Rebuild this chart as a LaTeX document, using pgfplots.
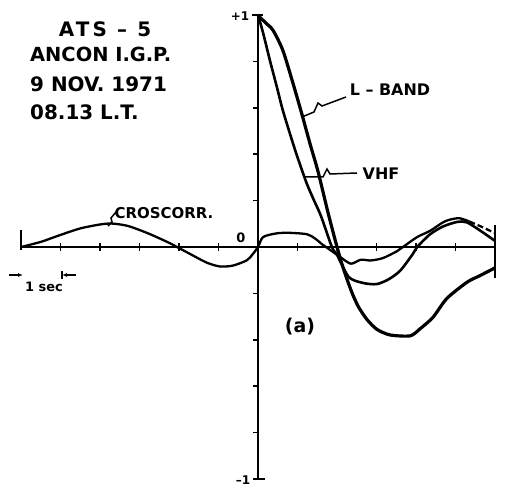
\documentclass[border=0pt]{standalone}
\usepackage{fontspec}
\setmainfont{DejaVu Sans}
\usepackage{pgfplots}
\pgfplotsset{compat=1.18}
\usetikzlibrary{arrows.meta}

\begin{document}
\begin{tikzpicture}[x=1bp,y=1bp]
\useasboundingbox (0,0) rectangle (509,498);
\begin{axis}[
  at={(258bp,251bp)}, anchor=origin,
  x=39.5bp, y=232bp,
  xmin=-6, xmax=6, ymin=-1, ymax=1,
  enlargelimits=false, clip=false,
  axis lines=middle,
  axis line style={line width=2.2bp, -},
  every inner x axis line/.append style={-},
  every inner y axis line/.append style={-},
  xtick={-5,-4,-3,-2,-1,1,2,3,4,5}, xticklabels={},
  ytick=\empty,
  major tick length=8bp, tick align=center,
  xtick style={line width=1.6bp, black},
]
% tick marks on the correlation axis (left side only) and end bars
\draw[line width=1.6bp] (axis cs:0,0.8) -- (axis cs:-0.13,0.8);
\draw[line width=1.6bp] (axis cs:0,0.6) -- (axis cs:-0.13,0.6);
\draw[line width=1.6bp] (axis cs:0,0.4) -- (axis cs:-0.13,0.4);
\draw[line width=1.6bp] (axis cs:0,0.2) -- (axis cs:-0.13,0.2);
\draw[line width=1.6bp] (axis cs:0,-0.2) -- (axis cs:-0.13,-0.2);
\draw[line width=1.6bp] (axis cs:0,-0.4) -- (axis cs:-0.13,-0.4);
\draw[line width=1.6bp] (axis cs:0,-0.6) -- (axis cs:-0.13,-0.6);
\draw[line width=1.6bp] (axis cs:0,-0.8) -- (axis cs:-0.13,-0.8);
\draw[line width=2bp] (axis cs:-0.14,1) -- (axis cs:0.12,1);
\draw[line width=2bp] (axis cs:-0.13,-1) -- (axis cs:0.18,-1);
\draw[line width=2bp] (axis cs:-6,-0.013) -- (axis cs:-6,0.073);
\draw[line width=2bp] (axis cs:6,-0.134) -- (axis cs:6,0.095);

% L-band autocorrelation
\addplot[black, line width=3.2bp, smooth, tension=0.45] coordinates {
  (0,1) (0.05,0.99) (0.2,0.965) (0.38,0.934) (0.63,0.847) (0.89,0.703)
  (1.11,0.573) (1.32,0.443) (1.52,0.325) (1.77,0.15) (2.0,0) (2.15,-0.087)
  (2.28,-0.152) (2.41,-0.21) (2.55,-0.26) (2.76,-0.313) (3.01,-0.355)
  (3.34,-0.379) (3.85,-0.383) (4.1,-0.353) (4.43,-0.303) (4.78,-0.222)
  (5.29,-0.152) (5.6,-0.125) (6,-0.09)
};
% VHF autocorrelation
\addplot[black, line width=2.6bp, smooth, tension=0.45] coordinates {
  (0,1) (0.13,0.922) (0.30,0.805) (0.48,0.688) (0.63,0.588) (0.89,0.444)
  (1.06,0.357) (1.24,0.271) (1.42,0.2) (1.6,0.131) (1.87,0) (2.0,-0.034)
  (2.3,-0.13) (2.66,-0.155) (3.0,-0.16) (3.3,-0.14) (3.6,-0.102)
  (3.92,-0.03) (4.03,0) (4.35,0.054) (4.68,0.088) (5.04,0.108)
  (5.29,0.106) (5.7,0.062) (6,0.026)
};
% cross-correlation L-band / VHF
\addplot[black, line width=2.3bp, smooth, tension=0.45] coordinates {
  (-6,0) (-5.5,0.022) (-5.0,0.052) (-4.5,0.08) (-4.0,0.097) (-3.7,0.101)
  (-3.3,0.091) (-2.8,0.06) (-2.3,0.022) (-2.05,0) (-1.72,-0.03)
  (-1.29,-0.068) (-0.96,-0.084) (-0.63,-0.08) (-0.28,-0.057) (-0.13,-0.03)
  (0,0) (0.13,0.043) (0.48,0.059) (0.81,0.061) (1.24,0.055) (1.44,0.037)
  (1.62,0.012) (1.72,0) (2.08,-0.043) (2.35,-0.072) (2.6,-0.055)
  (2.85,-0.058) (3.16,-0.048) (3.52,-0.018) (3.67,0) (4.03,0.043)
  (4.35,0.069) (4.68,0.106) (4.86,0.118) (5.1,0.124) (5.35,0.11)
};
\addplot[black, line width=2.3bp, dash pattern=on 6bp off 3bp] coordinates {
  (5.35,0.11) (5.65,0.088) (6,0.06)
};
\end{axis}

% header block
\begin{scope}[every node/.style={inner sep=0pt}]
\node[anchor=base, font=\bfseries\fontsize{20}{24}\selectfont] at (105,461)
  {\addfontfeature{LetterSpace=16}ATS – 5};
\node[anchor=base west, font=\bfseries\fontsize{19.5}{24}\selectfont] at (30,436) {ANCON I.G.P.};
\node[anchor=base west, font=\bfseries\fontsize{20}{24}\selectfont] at (30,406) {9 NOV. 1971};
\node[anchor=base west, font=\bfseries\fontsize{20}{24}\selectfont] at (30,378) {08.13 L.T.};

% curve labels
\node[font=\bfseries\fontsize{16}{18}\selectfont] at (390,408) {L – BAND};
\node[font=\bfseries\fontsize{16}{18}\selectfont] at (381,324.5) {VHF};
\node[font=\bfseries\fontsize{15}{18}\selectfont] at (164,284.5) {CROSCORR.};
\node[font=\bfseries\fontsize{19}{22}\selectfont] at (300,171) {(a)};

% axis annotations
\node[font=\bfseries\fontsize{12}{14}\selectfont] at (240,482) {+1};
\node[font=\bfseries\fontsize{12}{14}\selectfont] at (243,18) {–1};
\node[font=\bfseries\fontsize{13}{15}\selectfont] at (241,260) {0};
\node[font=\bfseries\fontsize{13}{15}\selectfont] at (44,211) {1 sec};
\end{scope}

% pointers
\draw[line width=1.5bp] (346,401) -- (322,392) -- (318,395) -- (314,386) -- (302,381);
\draw[line width=1.5bp] (357,325) -- (330,324) -- (327,329) -- (323,321) -- (305,321);
\draw[line width=1.5bp] (116,286) -- (111,280) -- (112,276) -- (108,272);

% one-second scale
\draw[line width=1.4bp, -{Latex[length=5bp,width=4bp]}] (9,223) -- (23,223);
\draw[line width=1.4bp, -{Latex[length=5bp,width=4bp]}] (76,223) -- (62,223);
\draw[line width=1.4bp] (62,219) -- (62,227);
\end{tikzpicture}
\end{document}
